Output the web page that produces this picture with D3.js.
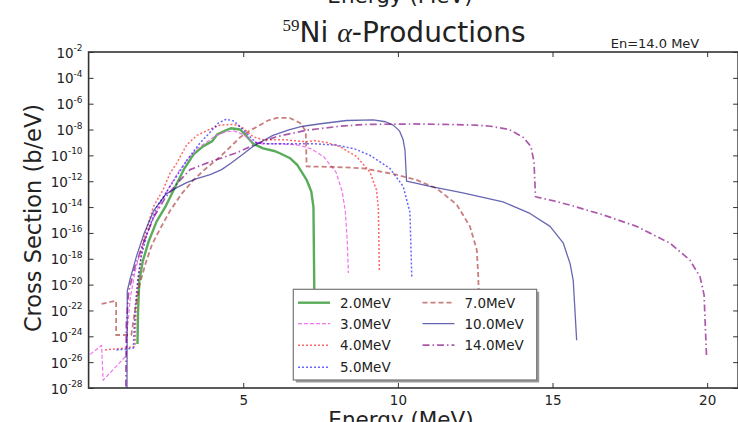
<!DOCTYPE html>
<html>
<head>
<meta charset="utf-8">
<script src="https://cdn.jsdelivr.net/npm/d3@7"></script>
<style>
  html, body { margin: 0; padding: 0; background: #fff; }
  svg { display: block; }
  text { font-family: "DejaVu Sans", sans-serif; fill: #222; }
</style>
</head>
<body>
<svg id="chart" width="738" height="422"></svg>
<script>
// Incident neutron energies (legend labels)
const seriesLabels = ["2.0MeV", "3.0MeV", "4.0MeV", "5.0MeV", "7.0MeV", "10.0MeV", "14.0MeV"];

// Outgoing alpha energy (MeV) and cross section (b/eV) for each incident energy
const e2 = [1.58,1.60,1.64,1.75,1.95,2.2,2.5,2.85,3.1,3.4,3.7,4.0,4.15,4.4,4.6,4.9,5.1,5.32,5.64,6.0,6.2,6.5,6.75,7.05,7.2,7.27,7.3];
const xs2 = [2.5e-25,1e-22,2e-20,6.3e-19,2.5e-17,7.9e-16,1.26e-14,6.3e-13,1e-11,1.26e-10,5e-10,1.26e-9,4e-9,7.9e-9,1.26e-8,1e-8,3.2e-9,7.9e-10,3.5e-10,2.2e-10,1.4e-10,6.3e-11,1.8e-11,1.26e-12,1.6e-13,1e-14,1e-21];

const e3 = [0.05,0.42,0.47,1.22,1.25,1.35,1.5,1.7,2.0,2.3,2.6,2.9,3.2,3.5,3.8,4.1,4.4,4.7,5.0,5.3,5.6,6.2,6.8,7.2,7.6,8.0,8.2,8.3,8.36,8.4];
const xs3 = [4e-26,2e-25,4e-28,3.2e-26,3.2e-24,1e-21,1e-19,6.3e-18,4e-16,1.6e-14,3.2e-13,5e-12,5e-11,3.2e-10,1e-9,3.2e-9,6.3e-9,7.9e-9,4e-9,1.26e-9,7.9e-10,7.9e-10,6.3e-10,3.2e-10,7.9e-11,5e-12,1.6e-13,5e-15,3.2e-17,7.9e-20];

const e4 = [0.53,1.0,1.5,1.53,1.6,1.77,2.09,2.42,2.63,2.85,3.17,3.5,3.9,4.25,4.6,4.8,5.0,5.32,5.64,6.0,6.4,6.8,7.05,7.3,7.7,8.13,8.67,9.1,9.31,9.37,9.4];
const xs4 = [8.9e-26,1.12e-25,1.6e-25,6.3e-23,2.5e-20,2.5e-17,1e-14,2.5e-13,4e-12,2.5e-11,6.3e-10,3.5e-9,1e-8,2.2e-8,2.5e-8,2.2e-8,1.26e-8,2.8e-9,1.6e-9,1.6e-9,1.6e-9,1.26e-9,1.12e-9,1.4e-9,1e-9,4.7e-10,7.9e-11,5e-12,2e-13,6.3e-15,1e-19];

const e5 = [0.9,1.2,1.45,1.5,1.58,1.7,1.9,2.2,2.5,2.85,3.2,3.6,3.93,4.2,4.45,4.7,4.9,5.22,5.43,5.87,6.5,7.27,8.0,8.6,9.1,9.74,10.17,10.39,10.45];
const xs5 = [8.9e-26,1e-25,1.26e-25,1e-22,1.6e-20,1.6e-18,1e-16,1e-14,1.26e-13,2.5e-12,5e-11,8.9e-10,6.3e-9,3.2e-8,6.3e-8,4.5e-8,1.6e-8,2.8e-9,8.9e-10,7.9e-10,7.9e-10,7.9e-10,6.3e-10,3.2e-10,1e-10,1e-11,4e-13,4e-15,3.2e-20];

const e7 = [0.42,0.89,0.89,1.38,1.5,1.65,1.85,2.05,2.31,2.63,3.0,3.39,3.8,4.25,4.6,4.9,5.2,5.54,5.8,6.08,6.5,6.84,7.02,7.05,8.0,8.88,9.96,10.6,11.25,11.9,12.33,12.55,12.6,12.62];
const xs7 = [3.2e-22,5.6e-22,1.26e-24,1.26e-24,1e-22,1e-20,5e-19,1.26e-17,2e-16,5e-15,1e-13,1.26e-12,1e-11,7.9e-11,5e-10,2.5e-9,7.9e-9,2.2e-8,5e-8,7.9e-8,7.9e-8,3.2e-8,7.9e-9,1.4e-11,1.26e-11,1e-11,3.2e-12,1.26e-12,2.8e-13,1.6e-14,3.2e-16,5e-18,4e-20,3.2e-22];

const e10 = [1.24,1.25,1.35,1.55,1.8,2.1,2.5,2.85,3.17,3.5,3.93,4.3,4.6,5.0,5.32,5.96,6.5,6.93,7.5,8.34,9.2,9.6,9.85,10.05,10.17,10.23,10.28,10.5,11.04,12.1,13.4,14.27,14.92,15.35,15.57,15.67,15.78];
const xs10 = [1e-29,3.2e-21,3.2e-20,1.6e-18,1e-16,5e-15,1e-13,3.2e-13,7.9e-13,1.6e-12,3.2e-12,7.9e-12,2.5e-11,1.26e-10,5e-10,3.5e-9,1e-8,1.8e-8,2.8e-8,5e-8,5.5e-8,4e-8,2.2e-8,7.9e-9,1.6e-9,2.5e-10,1e-12,7.9e-13,4e-13,1.26e-13,2.5e-14,3.2e-15,3.2e-16,1.6e-17,4e-19,2e-20,5e-25];

const e14 = [1.2,1.22,1.3,1.5,1.8,2.1,2.5,2.85,3.28,3.82,4.3,4.79,5.43,6.08,7.05,8.13,9.0,10.5,11.5,12.5,13.0,13.6,14.05,14.3,14.4,14.45,15.0,15.57,16.64,17.72,18.8,19.44,19.77,19.9,19.98];
const xs14 = [1e-29,1e-23,3.2e-21,2.5e-19,2.5e-17,1.6e-15,6.3e-14,6.3e-13,7.9e-12,2.5e-11,6.3e-11,1.6e-10,7.9e-10,2.8e-9,8.9e-9,1.8e-8,2.5e-8,2.7e-8,2.5e-8,2.2e-8,1.8e-8,1e-8,2.5e-9,5e-10,3.2e-11,6.3e-14,3.2e-14,1.4e-14,2.5e-15,3.2e-16,1.6e-17,7.9e-19,4e-20,1.6e-21,2.5e-26];

// Axis ticks
const xTicks = [5, 10, 15, 20];
const yTickExponents = [-2,-4,-6,-8,-10,-12,-14,-16,-18,-20,-22,-24,-26,-28];

// Line styles per series
const styles = [
  { color: "rgba(0,128,0,0.65)",    width: 2.4, dash: null },
  { color: "rgba(238,100,238,0.9)", width: 1.2, dash: "4,2" },
  { color: "rgba(255,0,0,0.6)",     width: 1.5, dash: "2,2" },
  { color: "rgba(0,0,255,0.6)",     width: 1.5, dash: "2,2" },
  { color: "rgba(165,42,42,0.6)",   width: 1.8, dash: "5,3" },
  { color: "rgba(0,0,128,0.6)",     width: 1.3, dash: null },
  { color: "rgba(128,0,128,0.65)",  width: 1.7, dash: "7,3,1.5,3" }
];

const series = [
  [e2, xs2], [e3, xs3], [e4, xs4], [e5, xs5], [e7, xs7], [e10, xs10], [e14, xs14]
].map(([e, s], i) => ({ label: seriesLabels[i], pts: e.map((v, j) => [v, s[j]]), style: styles[i] }));

const svg = d3.select("#chart");
const plot = { left: 88.6, right: 738.1, top: 52, bottom: 388 };

const x = d3.scaleLinear().domain([0, 21]).range([plot.left, plot.right]);
const y = d3.scaleLog().domain([1e-28, 1e-2]).range([plot.bottom, plot.top]);

svg.append("defs").append("clipPath").attr("id", "plotClip")
  .append("rect")
  .attr("x", plot.left).attr("y", plot.top)
  .attr("width", plot.right - plot.left).attr("height", plot.bottom - plot.top);

// Curves
const line = d3.line().x(d => x(d[0])).y(d => y(d[1]));
const curves = svg.append("g").attr("clip-path", "url(#plotClip)");
series.forEach(s => {
  curves.append("path")
    .attr("d", line(s.pts))
    .attr("fill", "none")
    .attr("stroke", s.style.color)
    .attr("stroke-width", s.style.width)
    .attr("stroke-dasharray", s.style.dash)
    .attr("stroke-linejoin", "round");
});

// Axes with inward ticks on all four sides
const tickLen = 5;
const axisColor = "#333";
svg.append("g").attr("transform", `translate(0,${plot.bottom})`)
  .call(d3.axisBottom(x).tickValues(xTicks).tickSize(-tickLen).tickPadding(7).tickFormat(d3.format("d")))
  .call(g => g.select(".domain").remove())
  .call(g => g.selectAll("line").attr("stroke", axisColor))
  .call(g => g.selectAll("text").attr("font-size", 13.5).attr("fill", "#333").attr("font-family", "DejaVu Sans"));

svg.append("g").attr("transform", `translate(0,${plot.top})`)
  .call(d3.axisTop(x).tickValues(xTicks).tickSize(-tickLen).tickFormat(""))
  .call(g => g.select(".domain").remove())
  .call(g => g.selectAll("line").attr("stroke", axisColor));

const yTickVals = yTickExponents.map(p => Math.pow(10, p));
const yAxisL = svg.append("g").attr("transform", `translate(${plot.left},0)`)
  .call(d3.axisLeft(y).tickValues(yTickVals).tickSize(-tickLen).tickPadding(6).tickFormat(""))
  .call(g => g.select(".domain").remove())
  .call(g => g.selectAll("line").attr("stroke", axisColor));

yAxisL.selectAll(".tick").each(function(d) {
  const t = d3.select(this).append("text")
    .attr("x", -6).attr("y", 5)
    .attr("text-anchor", "end")
    .attr("font-size", 13.5)
    .attr("fill", "#444");
  t.append("tspan").text("10");
  t.append("tspan").attr("dy", -6.5).attr("font-size", 9).text(String(Math.round(Math.log10(d))));
});

svg.append("g").attr("transform", `translate(${plot.right},0)`)
  .call(d3.axisRight(y).tickValues(yTickVals).tickSize(-tickLen).tickFormat(""))
  .call(g => g.select(".domain").remove())
  .call(g => g.selectAll("line").attr("stroke", axisColor));

// Frame
svg.append("rect")
  .attr("x", plot.left).attr("y", plot.top)
  .attr("width", plot.right - plot.left).attr("height", plot.bottom - plot.top)
  .attr("fill", "none").attr("stroke", axisColor).attr("stroke-width", 1.6);

// Axis labels
svg.append("text").attr("x", 401).attr("y", 427).attr("text-anchor", "middle")
  .attr("font-size", 21.5).text("Energy (MeV)");
svg.append("text").attr("x", 400).attr("y", 3).attr("text-anchor", "middle")
  .attr("font-size", 21.5).text("Energy (MeV)");
svg.append("text").attr("transform", "translate(41,218) rotate(-90)")
  .attr("text-anchor", "middle").attr("font-size", 22.5).text("Cross Section (b/eV)");

// Title
const title = svg.append("text").attr("x", 404).attr("y", 42).attr("text-anchor", "middle").attr("font-size", 28);
title.append("tspan").attr("font-family", "Liberation Serif").attr("font-size", 17).attr("dy", -11).text("59");
title.append("tspan").attr("dy", 11).text("Ni ");
title.append("tspan").attr("font-family", "Liberation Serif").attr("font-style", "italic").text("α");
title.append("tspan").text("-Productions");

svg.append("text").attr("x", 655).attr("y", 48).attr("text-anchor", "middle")
  .attr("font-size", 13).attr("fill", "#333").text("En=14.0 MeV");

// Legend
const leg = { x: 293.3, y: 289.3, w: 243.4, h: 90.7 };
const legend = svg.append("g");
legend.append("rect").attr("x", leg.x + 2.5).attr("y", leg.y + 2.5).attr("width", leg.w).attr("height", leg.h)
  .attr("fill", "#9a9a9a");
legend.append("rect").attr("x", leg.x).attr("y", leg.y).attr("width", leg.w).attr("height", leg.h)
  .attr("fill", "#fff").attr("stroke", "#777").attr("stroke-width", 1.2);

const rowY = [302.7, 323.6, 345.2, 367.2];
series.forEach((s, i) => {
  const col = i < 4 ? 0 : 1;
  const row = i < 4 ? i : i - 4;
  const hx = col === 0 ? 298 : 422.5;
  const cy = rowY[row];
  legend.append("line")
    .attr("x1", hx).attr("x2", hx + 32).attr("y1", cy).attr("y2", cy)
    .attr("stroke", s.style.color).attr("stroke-width", s.style.width)
    .attr("stroke-dasharray", s.style.dash);
  legend.append("text").attr("x", hx + 42).attr("y", cy + 5)
    .attr("font-size", 13.5).attr("fill", "#333").text(s.label);
});
</script>
</body>
</html>
